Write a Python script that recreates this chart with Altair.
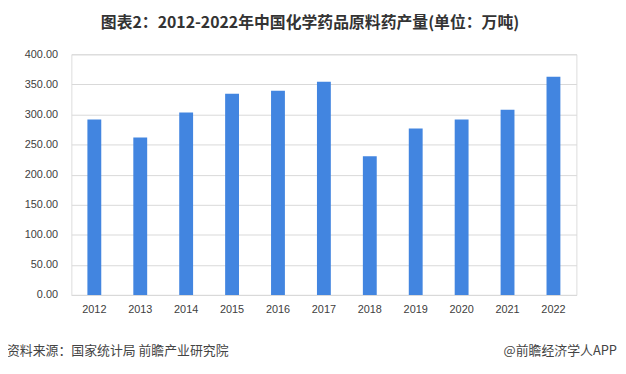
import altair as alt
import pandas as pd

years = ["2012", "2013", "2014", "2015", "2016", "2017", "2018", "2019", "2020", "2021", "2022"]
values = [291.6, 261.9, 303.1, 334.5, 339.4, 354.3, 230.5, 276.7, 291.6, 308.0, 362.5]

title_text = "图表2：2012-2022年中国化学药品原料药产量(单位：万吨)"
source_text = "资料来源：国家统计局 前瞻产业研究院"
brand_text = "@前瞻经济学人APP"

df = pd.DataFrame({"year": years, "value": values})

FONT = "Liberation Sans, Noto Sans CJK SC, sans-serif"
W, H = 510, 243

bars = alt.Chart(df).mark_bar(color="#4285e0", size=14).encode(
    x=alt.X("year:N", sort=years, title=None,
            scale=alt.Scale(paddingInner=0.7, paddingOuter=0.35),
            axis=alt.Axis(labelAngle=0, labelFontSize=11, labelColor="#404040",
                          labelFont=FONT, ticks=False, domainColor="#d9d9d9",
                          labelPadding=9)),
    y=alt.Y("value:Q", title=None,
            scale=alt.Scale(domain=[0, 400]),
            axis=alt.Axis(values=[0, 50, 100, 150, 200, 250, 300, 350, 400], format=".2f",
                          labelFontSize=11, labelColor="#404040", labelFont=FONT,
                          ticks=False, domain=False, gridColor="#d9d9d9",
                          labelPadding=14)),
)

src = alt.Chart(pd.DataFrame({"t": [source_text]})).mark_text(
    align="left", baseline="middle", fontSize=13, color="#444444",
    font="Noto Sans CJK SC"
).encode(text="t:N", x=alt.value(-65), y=alt.value(300))

brand = alt.Chart(pd.DataFrame({"t": [brand_text]})).mark_text(
    align="right", baseline="middle", fontSize=13, color="#444444",
    font="Noto Sans CJK SC"
).encode(text="t:N", x=alt.value(551), y=alt.value(300))

chart = alt.layer(bars, src, brand).properties(
    width=W, height=H,
    title=alt.Title(title_text, anchor="middle", dx=-14, offset=18,
                    fontSize=16, fontWeight="bold", color="#333333",
                    font="Noto Sans CJK SC"),
    autosize=alt.AutoSizeParams(type="none"),
    padding={"left": 64, "top": 45, "right": 42, "bottom": 70},
).configure_view(stroke=None).configure(background="white")

chart.save("out.html", embed_options={"renderer": "svg", "actions": False})
